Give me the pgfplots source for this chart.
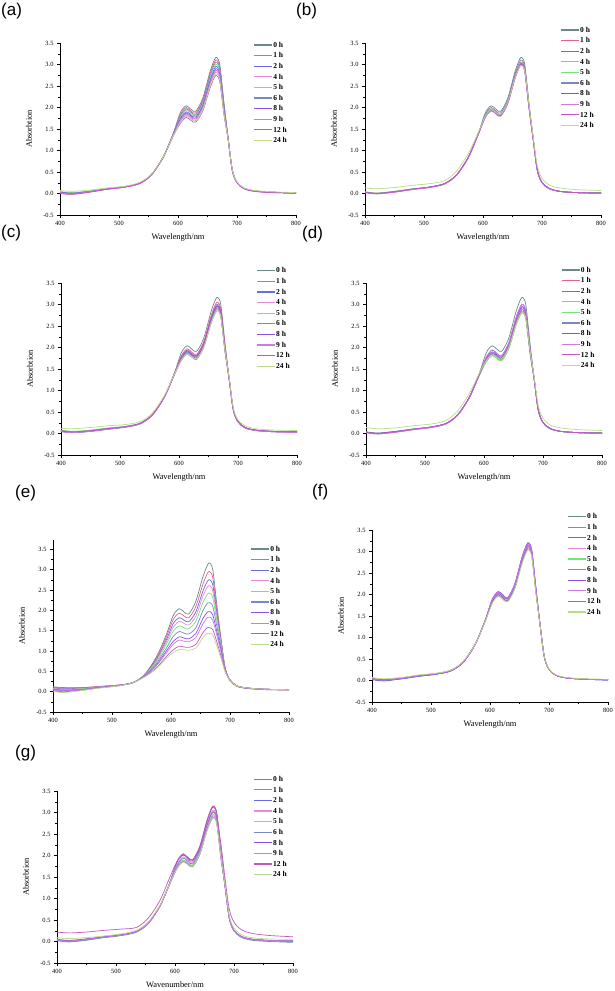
\documentclass[border=0pt]{standalone}
\usepackage{fontspec}
\setmainfont{Liberation Serif}
\newfontfamily\labfont{Liberation Sans}
\usepackage{pgfplots}
\usepackage{pgfplotstable}
\pgfplotsset{compat=1.18}

\definecolor{c0}{HTML}{6A8A8A}
\definecolor{c1}{HTML}{E8608C}
\definecolor{c2}{HTML}{6A6AE0}
\definecolor{c4}{HTML}{E888DC}
\definecolor{c5}{HTML}{70E870}
\definecolor{c6}{HTML}{7888C8}
\definecolor{c8}{HTML}{8A50E8}
\definecolor{c9}{HTML}{D078E8}
\definecolor{c12}{HTML}{C058C0}
\definecolor{c24}{HTML}{B8DC88}

% (a)
\pgfplotstableread{
x   h0    h1    h2    h4    h5    h6    h8    h9    h12   h24
400 0.04  0.02  0.03  0.01  0.05  0.03  0.03  0.02  0.00  0.07
420 0.01  -0.01 0.01  -0.02 0.02  0.01  0.00  -0.01 -0.02 0.05
450 0.05  0.04  0.05  0.03  0.06  0.05  0.04  0.04  0.03  0.08
480 0.11  0.10  0.11  0.10  0.12  0.11  0.10  0.10  0.10  0.13
510 0.16  0.15  0.16  0.15  0.16  0.16  0.15  0.15  0.15  0.17
535 0.24  0.24  0.24  0.23  0.25  0.24  0.24  0.23  0.23  0.26
555 0.44  0.44  0.44  0.43  0.45  0.44  0.44  0.43  0.43  0.45
575 0.85  0.85  0.85  0.84  0.86  0.85  0.85  0.84  0.84  0.85
592 1.40  1.39  1.37  1.35  1.38  1.39  1.37  1.36  1.34  1.35
604 1.88  1.84  1.75  1.68  1.78  1.81  1.73  1.70  1.63  1.65
614 2.04  2.00  1.90  1.82  1.94  1.97  1.87  1.85  1.77  1.80
622 1.96  1.92  1.83  1.75  1.86  1.89  1.80  1.77  1.70  1.72
630 1.91  1.87  1.78  1.70  1.81  1.84  1.75  1.73  1.66  1.68
642 2.22  2.18  2.07  1.98  2.11  2.14  2.04  2.01  1.92  1.95
654 2.82  2.77  2.63  2.52  2.68  2.72  2.59  2.55  2.44  2.48
662 3.12  3.06  2.91  2.78  2.96  3.01  2.86  2.82  2.71  2.75
666 3.16  3.10  2.95  2.82  3.00  3.05  2.90  2.86  2.74  2.78
671 2.98  2.92  2.78  2.66  2.83  2.88  2.73  2.70  2.58  2.62
678 2.10  2.06  1.96  1.87  1.99  2.03  1.93  1.90  1.82  1.85
685 1.28  1.28  1.27  1.26  1.27  1.28  1.27  1.26  1.26  1.26
692 0.55  0.55  0.54  0.54  0.55  0.55  0.54  0.54  0.53  0.55
700 0.26  0.26  0.26  0.25  0.26  0.26  0.26  0.25  0.25  0.27
712 0.12  0.12  0.12  0.11  0.12  0.12  0.12  0.11  0.11  0.13
730 0.06  0.06  0.06  0.05  0.06  0.06  0.06  0.05  0.05  0.07
760 0.03  0.03  0.03  0.02  0.03  0.03  0.03  0.02  0.02  0.04
800 0.01  0.01  0.01  0.01  0.02  0.01  0.01  0.01  0.01  0.02
}\tabA

% (b)
\pgfplotstableread{
x   h0    h1    h2    h4    h5    h6    h8    h9    h12   h24
400 0.03  0.04  0.03  0.02  0.04  0.03  0.03  0.02  0.03  0.13
420 0.00  0.01  0.00  -0.01 0.01  0.00  0.00  -0.01 0.00  0.11
450 0.04  0.05  0.04  0.03  0.05  0.04  0.04  0.03  0.04  0.14
480 0.10  0.10  0.10  0.09  0.11  0.10  0.10  0.09  0.10  0.19
510 0.15  0.15  0.15  0.14  0.15  0.15  0.15  0.14  0.15  0.23
535 0.23  0.23  0.23  0.22  0.23  0.23  0.23  0.22  0.23  0.30
555 0.43  0.43  0.43  0.42  0.43  0.43  0.43  0.42  0.43  0.52
575 0.84  0.84  0.84  0.83  0.84  0.84  0.84  0.83  0.84  0.93
592 1.40  1.39  1.38  1.38  1.38  1.39  1.38  1.38  1.38  1.42
604 1.88  1.81  1.80  1.77  1.80  1.84  1.78  1.77  1.80  1.80
614 2.04  1.97  1.95  1.92  1.96  2.00  1.94  1.92  1.95  1.95
622 1.96  1.89  1.87  1.85  1.88  1.92  1.86  1.85  1.87  1.88
630 1.91  1.84  1.83  1.80  1.83  1.87  1.81  1.80  1.83  1.84
642 2.22  2.14  2.12  2.09  2.13  2.18  2.11  2.09  2.12  2.13
654 2.82  2.72  2.70  2.66  2.70  2.77  2.68  2.66  2.70  2.68
662 3.12  3.01  2.98  2.94  2.99  3.06  2.96  2.94  2.98  2.95
666 3.16  3.05  3.02  2.98  3.03  3.10  3.00  2.98  3.02  2.97
671 2.98  2.88  2.85  2.81  2.86  2.92  2.83  2.81  2.85  2.84
678 2.10  2.03  2.01  1.98  2.01  2.06  1.99  1.98  2.01  2.06
685 1.28  1.28  1.27  1.27  1.27  1.28  1.27  1.27  1.27  1.33
692 0.55  0.55  0.55  0.54  0.55  0.55  0.54  0.54  0.55  0.65
700 0.26  0.26  0.26  0.25  0.26  0.26  0.25  0.25  0.26  0.36
712 0.12  0.12  0.12  0.11  0.12  0.12  0.11  0.11  0.12  0.20
730 0.05  0.05  0.05  0.05  0.05  0.05  0.05  0.05  0.05  0.13
760 0.02  0.02  0.02  0.02  0.02  0.02  0.02  0.02  0.02  0.09
800 0.01  0.01  0.01  0.00  0.01  0.01  0.01  0.00  0.01  0.07
}\tabB

% (c)
\pgfplotstableread{
x   h0    h1    h2    h4    h5    h6    h8    h9    h12   h24
400 0.06  0.07  0.05  0.06  0.08  0.05  0.06  0.04  0.07  0.12
420 0.03  0.04  0.02  0.03  0.05  0.02  0.03  0.02  0.04  0.11
450 0.06  0.07  0.05  0.06  0.08  0.05  0.06  0.05  0.07  0.14
480 0.11  0.12  0.10  0.11  0.13  0.10  0.11  0.10  0.12  0.18
510 0.16  0.16  0.15  0.16  0.17  0.15  0.16  0.15  0.16  0.21
535 0.24  0.24  0.23  0.24  0.25  0.23  0.24  0.23  0.24  0.28
555 0.44  0.44  0.43  0.44  0.45  0.43  0.44  0.43  0.44  0.48
575 0.85  0.85  0.84  0.84  0.85  0.84  0.85  0.84  0.85  0.88
592 1.40  1.39  1.37  1.36  1.37  1.37  1.37  1.36  1.38  1.37
604 1.88  1.81  1.75  1.71  1.73  1.74  1.77  1.70  1.78  1.71
614 2.04  1.97  1.90  1.86  1.87  1.88  1.92  1.84  1.94  1.85
622 1.96  1.89  1.83  1.79  1.80  1.81  1.84  1.77  1.86  1.78
630 1.91  1.84  1.78  1.74  1.75  1.76  1.80  1.72  1.81  1.74
642 2.22  2.14  2.07  2.02  2.04  2.05  2.09  2.00  2.11  2.01
654 2.82  2.72  2.63  2.57  2.59  2.61  2.65  2.54  2.68  2.55
662 3.12  3.01  2.91  2.84  2.86  2.88  2.93  2.81  2.96  2.82
666 3.16  3.05  2.95  2.88  2.90  2.92  2.97  2.85  3.00  2.85
671 2.98  2.88  2.78  2.72  2.73  2.75  2.80  2.69  2.83  2.71
678 2.10  2.03  1.96  1.91  1.93  1.94  1.97  1.89  1.99  1.93
685 1.28  1.28  1.27  1.26  1.27  1.27  1.27  1.26  1.27  1.31
692 0.56  0.56  0.55  0.55  0.56  0.55  0.56  0.55  0.56  0.60
700 0.28  0.28  0.27  0.27  0.28  0.27  0.28  0.27  0.28  0.32
712 0.14  0.14  0.13  0.13  0.14  0.13  0.14  0.13  0.14  0.18
730 0.08  0.08  0.07  0.07  0.08  0.07  0.08  0.07  0.08  0.11
760 0.05  0.05  0.04  0.04  0.05  0.04  0.05  0.04  0.05  0.08
800 0.04  0.04  0.03  0.02  0.05  0.03  0.04  0.02  0.04  0.07
}\tabC

% (d)
\pgfplotstableread{
x   h0    h1    h2    h4    h5    h6    h8    h9    h12   h24
400 0.03  0.02  0.03  0.02  0.04  0.03  0.04  0.02  0.03  0.14
420 0.00  -0.01 0.00  -0.01 0.01  0.00  0.01  -0.01 0.00  0.11
450 0.04  0.03  0.04  0.03  0.05  0.04  0.05  0.03  0.04  0.13
480 0.10  0.09  0.10  0.09  0.11  0.10  0.10  0.09  0.10  0.18
510 0.15  0.14  0.15  0.14  0.15  0.15  0.15  0.14  0.15  0.22
535 0.23  0.22  0.23  0.22  0.23  0.23  0.23  0.22  0.23  0.30
555 0.43  0.42  0.43  0.42  0.43  0.43  0.43  0.42  0.43  0.52
575 0.84  0.83  0.84  0.83  0.84  0.84  0.84  0.83  0.84  0.93
592 1.40  1.36  1.38  1.35  1.35  1.36  1.37  1.38  1.37  1.40
604 1.88  1.70  1.78  1.68  1.67  1.71  1.75  1.78  1.74  1.70
614 2.04  1.84  1.94  1.82  1.81  1.86  1.90  1.94  1.88  1.83
622 1.96  1.77  1.86  1.75  1.74  1.79  1.83  1.86  1.81  1.77
630 1.91  1.72  1.81  1.70  1.69  1.74  1.78  1.81  1.76  1.73
642 2.22  2.00  2.11  1.98  1.97  2.02  2.07  2.11  2.05  2.00
654 2.82  2.54  2.68  2.52  2.50  2.57  2.63  2.68  2.61  2.52
662 3.12  2.81  2.96  2.78  2.76  2.84  2.91  2.96  2.88  2.78
666 3.16  2.85  3.00  2.82  2.80  2.88  2.95  3.00  2.92  2.80
671 2.98  2.69  2.83  2.66  2.64  2.72  2.78  2.83  2.75  2.68
678 2.10  1.89  1.99  1.87  1.86  1.91  1.96  1.99  1.94  1.93
685 1.28  1.26  1.27  1.26  1.26  1.26  1.27  1.27  1.27  1.32
692 0.55  0.54  0.55  0.54  0.54  0.54  0.55  0.55  0.55  0.65
700 0.26  0.25  0.26  0.25  0.25  0.25  0.26  0.26  0.26  0.36
712 0.12  0.11  0.12  0.11  0.11  0.11  0.12  0.12  0.12  0.20
730 0.05  0.05  0.05  0.05  0.05  0.05  0.05  0.05  0.05  0.13
760 0.02  0.02  0.02  0.02  0.02  0.02  0.02  0.02  0.02  0.09
800 0.01  0.00  0.01  0.00  0.01  0.01  0.01  0.00  0.01  0.07
}\tabD

% (e)
\pgfplotstableread{
x   h0    h1    h2    h4    h5    h6    h8    h9    h12   h24
400 0.12  0.11  0.09  0.08  0.07  0.06  0.05  0.04  0.02  0.00
420 0.10  0.09  0.07  0.06  0.05  0.04  0.03  0.02  0.00  -0.02
450 0.10  0.10  0.09  0.08  0.07  0.06  0.05  0.05  0.04  0.03
480 0.13  0.13  0.12  0.12  0.11  0.11  0.10  0.10  0.10  0.09
510 0.16  0.16  0.16  0.16  0.15  0.15  0.15  0.15  0.14  0.14
535 0.22  0.22  0.22  0.22  0.22  0.22  0.22  0.22  0.22  0.22
555 0.42  0.41  0.41  0.40  0.40  0.39  0.38  0.38  0.37  0.36
575 0.85  0.82  0.79  0.76  0.73  0.69  0.65  0.63  0.58  0.56
592 1.40  1.34  1.27  1.22  1.16  1.07  1.00  0.95  0.86  0.82
604 1.88  1.78  1.68  1.59  1.49  1.36  1.24  1.17  1.03  0.96
614 2.04  1.93  1.82  1.73  1.62  1.48  1.35  1.27  1.12  1.04
622 1.96  1.86  1.76  1.68  1.57  1.44  1.32  1.24  1.10  1.03
630 1.91  1.82  1.72  1.64  1.55  1.42  1.30  1.23  1.09  1.02
642 2.22  2.09  1.96  1.85  1.73  1.57  1.43  1.33  1.16  1.07
654 2.82  2.64  2.47  2.35  2.19  1.99  1.80  1.67  1.45  1.33
662 3.12  2.92  2.72  2.58  2.40  2.18  1.96  1.83  1.58  1.44
666 3.16  2.95  2.75  2.60  2.42  2.19  1.97  1.83  1.57  1.43
671 2.98  2.79  2.61  2.47  2.30  2.09  1.88  1.75  1.52  1.39
678 2.10  2.00  1.90  1.82  1.72  1.59  1.46  1.37  1.21  1.11
685 1.28  1.25  1.21  1.18  1.14  1.08  1.01  0.96  0.86  0.81
692 0.55  0.56  0.56  0.56  0.56  0.55  0.54  0.53  0.50  0.48
700 0.27  0.28  0.28  0.29  0.29  0.29  0.29  0.29  0.28  0.28
712 0.13  0.13  0.14  0.14  0.14  0.14  0.14  0.14  0.14  0.14
730 0.08  0.08  0.08  0.09  0.09  0.09  0.09  0.09  0.09  0.09
760 0.05  0.05  0.06  0.06  0.06  0.06  0.06  0.06  0.06  0.06
800 0.04  0.04  0.05  0.05  0.05  0.05  0.05  0.05  0.05  0.05
}\tabE

% (f)
\pgfplotstableread{
x   h0    h1    h2    h4    h5    h6    h8    h9    h12   h24
400 0.04  0.05  0.03  0.04  0.06  0.03  0.02  0.04  0.05  0.07
420 0.01  0.02  0.00  0.01  0.03  0.00  -0.01 0.01  0.02  0.04
450 0.05  0.06  0.04  0.05  0.06  0.04  0.04  0.05  0.06  0.07
480 0.11  0.12  0.10  0.11  0.12  0.10  0.10  0.11  0.12  0.13
510 0.16  0.16  0.15  0.16  0.17  0.15  0.15  0.16  0.16  0.17
535 0.24  0.24  0.23  0.24  0.25  0.23  0.23  0.24  0.24  0.25
555 0.44  0.44  0.43  0.44  0.45  0.43  0.43  0.44  0.44  0.45
575 0.85  0.85  0.84  0.85  0.85  0.84  0.84  0.85  0.85  0.85
592 1.40  1.39  1.40  1.39  1.39  1.40  1.41  1.40  1.39  1.38
604 1.87  1.86  1.89  1.84  1.81  1.87  1.90  1.89  1.83  1.80
614 2.03  2.01  2.05  2.00  1.97  2.03  2.07  2.05  1.99  1.96
622 1.95  1.94  1.97  1.92  1.89  1.95  1.99  1.97  1.91  1.88
630 1.90  1.89  1.92  1.87  1.84  1.90  1.93  1.92  1.86  1.83
642 2.21  2.19  2.23  2.18  2.14  2.21  2.25  2.23  2.16  2.13
654 2.81  2.78  2.84  2.77  2.72  2.80  2.86  2.83  2.75  2.70
662 3.11  3.08  3.14  3.06  3.01  3.10  3.16  3.13  3.04  2.99
666 3.15  3.12  3.18  3.10  3.05  3.14  3.20  3.17  3.08  3.03
671 2.97  2.94  3.00  2.92  2.88  2.96  3.02  2.99  2.90  2.86
678 2.09  2.07  2.11  2.06  2.03  2.09  2.13  2.11  2.05  2.01
685 1.28  1.28  1.28  1.28  1.28  1.28  1.29  1.28  1.28  1.28
692 0.55  0.55  0.55  0.55  0.55  0.55  0.56  0.55  0.55  0.56
700 0.26  0.26  0.26  0.26  0.26  0.26  0.26  0.26  0.26  0.27
712 0.12  0.12  0.12  0.12  0.12  0.12  0.12  0.12  0.12  0.13
730 0.06  0.06  0.06  0.06  0.06  0.06  0.06  0.06  0.06  0.07
760 0.03  0.03  0.03  0.03  0.03  0.03  0.03  0.03  0.03  0.04
800 0.02  0.02  0.01  0.02  0.02  0.01  0.01  0.02  0.02  0.03
}\tabF

% (g)
\pgfplotstableread{
x   h0    h1    h2    h4    h5    h6    h8    h9    h12   h24
400 0.02  0.05  0.04  0.03  0.06  0.03  0.05  0.04  0.22  0.09
420 -0.01 0.02  0.01  0.00  0.03  0.00  0.02  0.01  0.20  0.07
450 0.03  0.06  0.05  0.04  0.06  0.04  0.06  0.05  0.22  0.09
480 0.09  0.11  0.10  0.10  0.12  0.10  0.11  0.10  0.26  0.13
510 0.14  0.16  0.15  0.15  0.17  0.15  0.16  0.15  0.29  0.18
535 0.22  0.24  0.23  0.23  0.25  0.23  0.24  0.23  0.33  0.26
555 0.42  0.44  0.43  0.43  0.45  0.43  0.44  0.43  0.55  0.46
575 0.83  0.85  0.84  0.84  0.85  0.84  0.84  0.84  0.97  0.86
592 1.40  1.40  1.39  1.39  1.37  1.38  1.36  1.37  1.52  1.37
604 1.87  1.87  1.86  1.81  1.75  1.78  1.71  1.74  1.88  1.71
614 2.03  2.03  2.01  1.97  1.90  1.94  1.86  1.88  2.04  1.85
622 1.95  1.95  1.94  1.89  1.83  1.86  1.79  1.81  1.92  1.78
630 1.90  1.90  1.89  1.84  1.78  1.81  1.74  1.76  1.87  1.74
642 2.21  2.21  2.19  2.14  2.07  2.11  2.02  2.05  2.16  2.03
654 2.80  2.81  2.78  2.72  2.63  2.68  2.57  2.61  2.71  2.56
662 3.10  3.11  3.08  3.01  2.91  2.96  2.84  2.88  2.98  2.83
666 3.14  3.15  3.12  3.05  2.95  3.00  2.88  2.92  3.02  2.87
671 2.96  2.97  2.94  2.88  2.78  2.83  2.72  2.75  2.89  2.72
678 2.09  2.09  2.07  2.03  1.96  1.99  1.91  1.94  2.25  1.95
685 1.28  1.28  1.28  1.28  1.27  1.27  1.26  1.27  1.45  1.30
692 0.55  0.55  0.55  0.55  0.54  0.55  0.54  0.54  0.75  0.60
700 0.25  0.26  0.26  0.26  0.25  0.26  0.25  0.25  0.45  0.31
712 0.10  0.12  0.12  0.12  0.11  0.12  0.11  0.11  0.28  0.16
730 0.03  0.06  0.05  0.05  0.05  0.05  0.05  0.05  0.19  0.09
760 0.00  0.03  0.02  0.02  0.02  0.02  0.02  0.02  0.14  0.06
800 -0.02 0.01  0.01  0.01  0.01  0.01  0.01  0.01  0.11  0.05
}\tabG

\newcommand\curves[1]{%
  \addplot[c0]  table[x=x,y=h0]{#1};
  \addplot[c1]  table[x=x,y=h1]{#1};
  \addplot[c2]  table[x=x,y=h2]{#1};
  \addplot[c4]  table[x=x,y=h4]{#1};
  \addplot[c5]  table[x=x,y=h5]{#1};
  \addplot[c6]  table[x=x,y=h6]{#1};
  \addplot[c8]  table[x=x,y=h8]{#1};
  \addplot[c9]  table[x=x,y=h9]{#1};
  \addplot[c12] table[x=x,y=h12]{#1};
  \addplot[c24] table[x=x,y=h24]{#1};
}

\pgfplotsset{
  spec/.style={
    scale only axis, width=236pt, height=172pt, anchor=south west,
    xmin=400, xmax=800, ymin=-0.5, ymax=3.5,
    axis x line*=bottom, axis y line*=left,
    tick align=outside,
    xtick={400,500,600,700,800}, minor x tick num=1,
    ytick={-0.5,0,0.5,1,1.5,2,2.5,3,3.5}, minor y tick num=1,
    major tick length=3pt, minor tick length=2pt,
    tick style={black, line width=0.5pt},
    axis line style={line width=0.6pt},
    tick label style={font=\fontsize{6.4}{7}\selectfont},
    /pgf/number format/assume math mode=true,
    y tick label style={/pgf/number format/fixed, /pgf/number format/fixed zerofill, /pgf/number format/precision=1},
    xlabel={Wavelength/nm}, ylabel={Absorbtion},
    label style={font=\fontsize{8.4}{10}\selectfont},
    xlabel style={at={(axis description cs:0.5,-0.128)}, anchor=center},
    ylabel style={at={(axis description cs:-0.131,0.5)}, anchor=center},
    every axis plot/.append style={no marks, smooth, line width=0.7pt},
    legend entries={0 h,1 h,2 h,4 h,5 h,6 h,8 h,9 h,12 h,24 h},
    legend cell align=left,
    legend image code/.code={\draw[#1,line width=1.2pt] (0pt,0pt) -- (18pt,0pt);},
    legend style={draw=none, fill=none, anchor=north west, inner sep=0pt, outer sep=0pt,
      row sep=3.9pt, font=\bfseries\fontsize{7.5}{8}\selectfont,
      nodes={inner sep=0.6pt, text height=5pt, text depth=0.5pt},
      /tikz/every even column/.append style={column sep=1.5pt}},
  }
}

\begin{document}
\begin{tikzpicture}
\path[use as bounding box] (0pt,0pt) rectangle (615pt,-991pt);
\tikzset{plab/.style={anchor=north west, inner sep=0pt, font=\labfont\fontsize{17}{20}\selectfont}}
\node[plab] at (1pt,-3pt) {(a)};
\node[plab] at (296pt,-3pt) {(b)};
\node[plab] at (1pt,-225pt) {(c)};
\node[plab] at (302pt,-226pt) {(d)};
\node[plab] at (15pt,-485pt) {(e)};
\node[plab] at (312pt,-484pt) {(f)};
\node[plab] at (15pt,-745pt) {(g)};

\begin{axis}[spec, at={(60pt,-215pt)}, legend style={at={(0.82,1.008)}}]
\curves{\tabA}
\end{axis}
\begin{axis}[spec, at={(365pt,-215pt)}, legend style={at={(0.828,1.095)}}]
\curves{\tabB}
\end{axis}
\begin{axis}[spec, at={(61pt,-455pt)}, legend style={at={(0.828,1.091)}}]
\curves{\tabC}
\end{axis}
\begin{axis}[spec, at={(366pt,-455pt)}, legend style={at={(0.827,1.095)}}]
\curves{\tabD}
\end{axis}
\begin{axis}[spec, at={(53pt,-712pt)}, ymax=3.73, legend style={at={(0.837,0.967)}}]
\curves{\tabE}
\end{axis}
\begin{axis}[spec, at={(372pt,-702pt)}, legend style={at={(0.828,1.097)}}]
\curves{\tabF}
\end{axis}
\begin{axis}[spec, at={(57pt,-963pt)}, xlabel={Wavenumber/nm}, legend style={at={(0.832,1.088)}}]
\curves{\tabG}
\end{axis}
\end{tikzpicture}
\end{document}
